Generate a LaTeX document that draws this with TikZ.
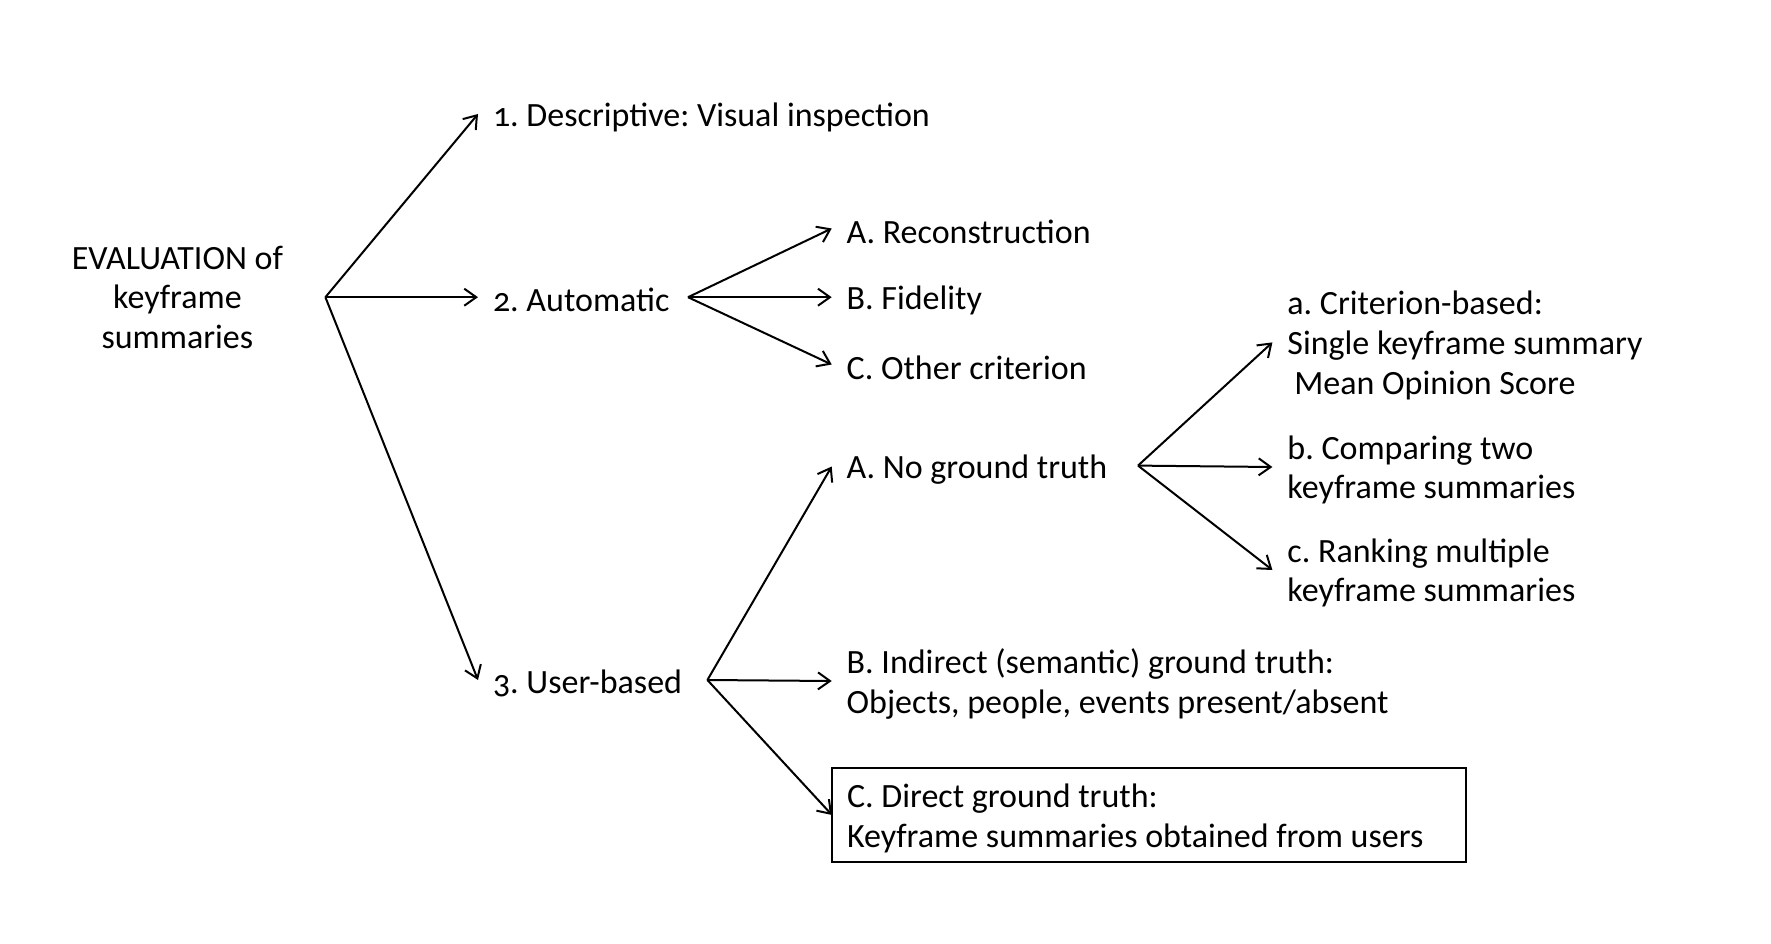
\documentclass[tikz,border=0pt]{standalone}
\usepackage{fontspec}
\setmainfont{Carlito}[Numbers=OldStyle]
\usetikzlibrary{arrows.meta}
\frenchspacing
\begin{document}
\begin{tikzpicture}[x=1pt,y=-1pt,
  txt/.style={font=\fontsize{34}{39.6}\selectfont},
  lbl/.style={txt, anchor=west, inner xsep=15pt, inner ysep=0pt, outer sep=0pt, align=left},
  arr/.style={-{Straight Barb[length=12pt,width=17pt]}, line width=2pt},
  boxed/.style={draw, line width=2pt, inner sep=0pt, outer sep=0pt, minimum width=633.6pt, minimum height=94pt}]
\useasboundingbox[fill=white] (0,0) rectangle (1771,944);
% root
\node[txt, align=center, inner sep=0pt] (root) at (177.4,297.2) {EVALUATION of\\keyframe\\summaries};
\coordinate (f0) at (325.4,297.2);
\node[lbl] (d1) at (478,117) {1. Descriptive: Visual inspection};
\node[lbl] (d2) at (478,300.2) {2. Automatic};
\node[lbl] (d3) at (478,683) {3. User-based};
% automatic
\coordinate (f2) at (688,297.2);
\node[lbl] (a1) at (831.7,231.5) {A. Reconstruction};
\node[lbl] (a2) at (831.7,300.2) {B. Fidelity};
\node[lbl] (a3) at (831.7,367.5) {C. Other criterion};
% user-based
\coordinate (f3) at (707.4,680);
\node[lbl] (u1) at (831.7,469.5) {A. No ground truth};
\node[lbl] (u2) at (831.7,684) {B. Indirect (semantic) ground truth:\\Objects, people, events present/absent};
\node[boxed] (u3box) at (1148.8,815) {};
\node[lbl] (u3) at (832,818.4) {C. Direct ground truth:\\Keyframe summaries obtained from users};
% no ground truth
\coordinate (f4) at (1138,465.6);
\node[lbl] (n1) at (1272.4,345.4) {a. Criterion-based:\\Single keyframe summary\\\hspace*{7pt}Mean Opinion Score};
\node[lbl] (n2) at (1272.4,470) {b. Comparing two\\keyframe summaries};
\node[lbl] (n3) at (1272.4,573) {c. Ranking multiple\\keyframe summaries};
% connectors
\draw[arr] (f0) -- ([yshift=3pt]d1.west);
\draw[arr] (f0) -- ([yshift=3pt]d2.west);
\draw[arr] (f0) -- ([yshift=3pt]d3.west);
\draw[arr] (f2) -- ([yshift=3pt]a1.west);
\draw[arr] (f2) -- ([yshift=3pt]a2.west);
\draw[arr] (f2) -- ([yshift=3pt]a3.west);
\draw[arr] (f3) -- ([yshift=3pt]u1.west);
\draw[arr] (f3) -- ([yshift=3pt]u2.west);
\draw[arr] (f3) -- (u3box.west);
\draw[arr] (f4) -- ([yshift=3pt]n1.west);
\draw[arr] (f4) -- ([yshift=3pt]n2.west);
\draw[arr] (f4) -- ([yshift=3pt]n3.west);
\end{tikzpicture}
\end{document}
